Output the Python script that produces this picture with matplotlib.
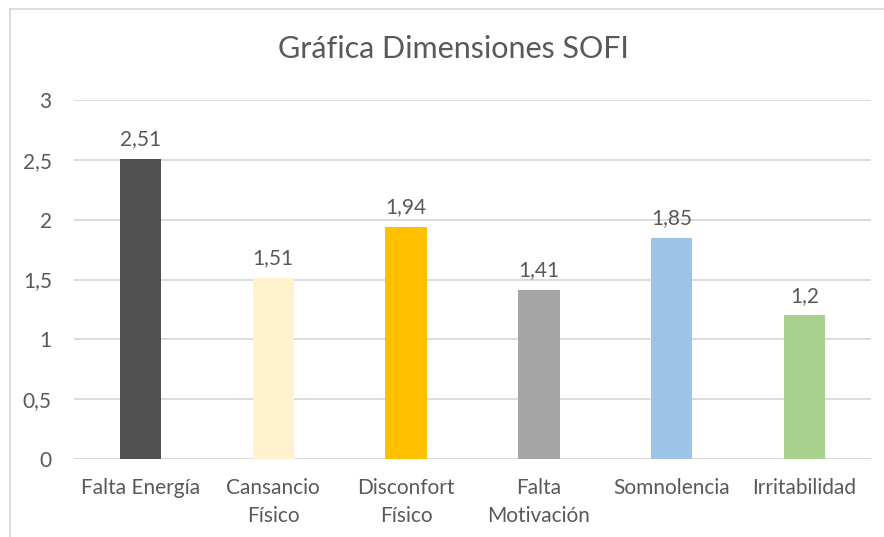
import matplotlib.pyplot as plt
from matplotlib.lines import Line2D

categories = ["Falta Energía", "Cansancio\nFísico", "Disconfort\nFísico",
              "Falta\nMotivación", "Somnolencia", "Irritabilidad"]
values = [2.51, 1.51, 1.94, 1.41, 1.85, 1.2]
labels = ["2,51", "1,51", "1,94", "1,41", "1,85", "1,2"]
colors = ["#505050", "#FFF2CC", "#FFC000", "#A5A5A5", "#9DC3E6", "#A9D18E"]
yticks = [0, 0.5, 1, 1.5, 2, 2.5, 3]
ytick_labels = ["0", "0,5", "1", "1,5", "2", "2,5", "3"]

plt.rcParams['font.family'] = ['Lato', 'DejaVu Sans']
text_color = "#595959"
grid_color = "#D9D9D9"

fig = plt.figure(figsize=(8.84, 5.37), dpi=100)
ax = fig.add_axes([74 / 884, 1 - 459 / 537, 797 / 884, 359 / 537])

x = list(range(len(categories)))
ax.bar(x, values, width=0.31, color=colors, zorder=3)
for xi, v, lab in zip(x, values, labels):
    ax.annotate(lab, (xi, v), xytext=(0, 7), textcoords="offset points",
                ha="center", va="bottom", fontsize=15, color=text_color)

ax.set_xlim(-0.5, len(categories) - 0.5)
ax.set_ylim(0, 3)
ax.set_yticks(yticks)
ax.set_yticklabels(ytick_labels)
ax.set_xticks(x)
ax.set_xticklabels(categories, linespacing=1.45)
ax.tick_params(axis="y", length=0, pad=16, labelsize=15, labelcolor=text_color)
ax.tick_params(axis="x", length=0, pad=14, labelsize=15, labelcolor=text_color)
ax.grid(axis="y", color=grid_color, linewidth=1.3, zorder=0)
for s in ax.spines.values():
    s.set_visible(False)
ax.axhline(0, color=grid_color, linewidth=1.3, zorder=2)

fig.text(453 / 884, 1 - 49 / 537, "Gráfica Dimensiones SOFI", ha="center",
         va="center", fontsize=22, color=text_color)

# chart area frame (top and left edges visible)
fig.add_artist(Line2D([9.5 / 884, 9.5 / 884], [0, 1 - 9 / 537],
                      transform=fig.transFigure, color=grid_color, linewidth=1.3))
fig.add_artist(Line2D([9.5 / 884, 1], [1 - 9 / 537, 1 - 9 / 537],
                      transform=fig.transFigure, color=grid_color, linewidth=1.3))

fig.savefig("out.png", dpi=100, facecolor="white")
